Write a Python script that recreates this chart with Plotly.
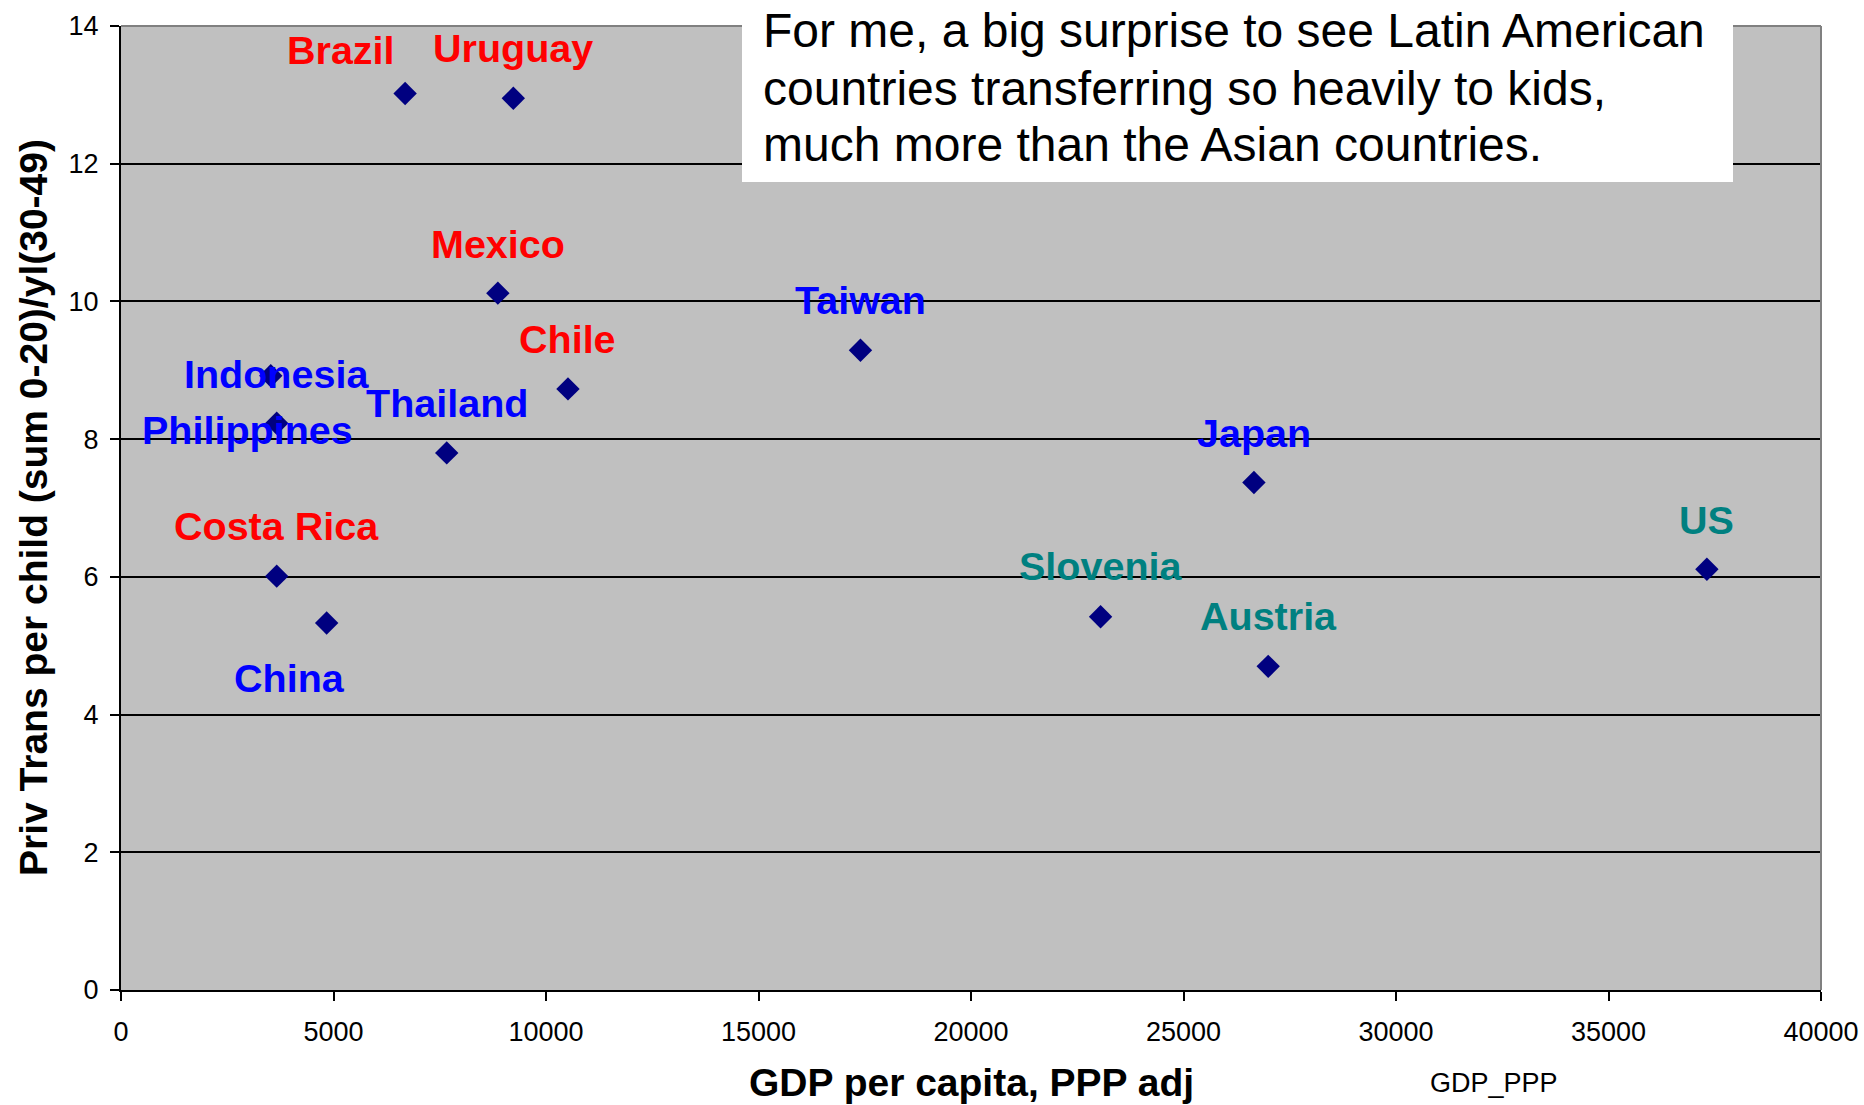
import plotly.graph_objects as go

countries = ["Brazil", "Uruguay", "Mexico", "Chile", "Indonesia", "Philippines", "Thailand",
             "Taiwan", "Japan", "US", "Slovenia", "Austria", "Costa Rica", "China"]
gdp_ppp = [6685, 9231, 8867, 10517, 3524, 3664, 7664, 17399, 26657, 37315, 23049, 26993, 3664, 4839]
priv_trans = [13.02, 12.95, 10.12, 8.73, 8.92, 8.23, 7.80, 9.29, 7.37, 6.11, 5.42, 4.70, 6.01, 5.33]
groups = ["latam", "latam", "latam", "latam", "asia", "asia", "asia",
          "asia", "asia", "other", "other", "other", "latam", "asia"]
# label offsets (pixels) relative to each point
label_dx = [-64, 0, 0, 0, 6, -29, 0, 0, 0, 0, 0, 0, 0, -37]
label_dy = [-43, -50, -49, -50, -2, 7, -50, -50, -50, -49, -51, -50, -50, 55]

group_color = {"latam": "#FF0000", "asia": "#0000FF", "other": "#008080"}

W, H = 1864, 1105
# plot area in page pixels
PL, PR, PT, PB = 121, 1821, 26, 990
L, T = PL, PT
R, B = W - PR, H - PB

FONT = "Liberation Sans, Arial, sans-serif"

fig = go.Figure()
fig.add_trace(go.Scatter(
    x=gdp_ppp, y=priv_trans, mode="markers",
    marker=dict(symbol="diamond", size=18, color="#000080", line=dict(width=0)),
    showlegend=False, hoverinfo="x+y",
))

annotations = []
for c, x, y, g, dx, dy in zip(countries, gdp_ppp, priv_trans, groups, label_dx, label_dy):
    annotations.append(dict(
        x=x, y=y, xref="x", yref="y", text="<b>" + c + "</b>", showarrow=True,
        arrowcolor="rgba(0,0,0,0)", arrowwidth=0.1, ax=dx, ay=dy,
        xanchor="center", yanchor="middle",
        font=dict(family=FONT, size=39.5, color=group_color[g]),
    ))

pw = PR - PL
ph = PB - PT
def px(xpix):
    return (xpix - PL) / pw
def py(ypix):
    return 1 - (ypix - PT) / ph

# axis titles
annotations.append(dict(
    x=0.5, y=py(1082), xref="paper", yref="paper", text="<b>GDP per capita, PPP adj</b>",
    showarrow=False, xanchor="center", yanchor="middle",
    font=dict(family=FONT, size=39, color="#000000"),
))
annotations.append(dict(
    x=px(33), y=0.5, xref="paper", yref="paper", text="<b>Priv Trans per child (sum 0-20)/yl(30-49)</b>",
    showarrow=False, xanchor="center", yanchor="middle", textangle=-90,
    font=dict(family=FONT, size=39, color="#000000"),
))
annotations.append(dict(
    x=px(1494), y=py(1083), xref="paper", yref="paper", text="GDP_PPP",
    showarrow=False, xanchor="center", yanchor="middle",
    font=dict(family=FONT, size=27, color="#000000"),
))

note_lines = ["For me, a big surprise to see Latin American",
              "countries transferring so heavily to kids,",
              "much more than the Asian countries."]
note_y = [31, 88, 144]
for line, yy in zip(note_lines, note_y):
    annotations.append(dict(
        x=px(761), y=py(yy), xref="paper", yref="paper", text=line,
        showarrow=False, xanchor="left", yanchor="middle",
        font=dict(family=FONT, size=48, color="#000000"),
    ))

shapes = [
    dict(type="line", xref="paper", yref="paper", x0=0, x1=1, y0=1, y1=1,
         line=dict(color="#808080", width=2), layer="above"),
    dict(type="line", xref="paper", yref="paper", x0=1, x1=1, y0=0, y1=1,
         line=dict(color="#808080", width=2), layer="above"),
    dict(type="rect", xref="paper", yref="paper", x0=px(742), x1=px(1733), y0=py(182), y1=py(0),
         fillcolor="#FFFFFF", line=dict(width=0), layer="above"),
]

fig.update_layout(
    width=W, height=H,
    margin=dict(l=L, r=R, t=T, b=B, pad=0, autoexpand=False),
    paper_bgcolor="#FFFFFF", plot_bgcolor="#C0C0C0",
    font=dict(family=FONT, color="#000000"),
    xaxis=dict(range=[0, 40000], dtick=5000, tick0=0, tickformat="d", showgrid=False, zeroline=False,
               showline=True, linecolor="#000000", linewidth=2, automargin=False,
               ticks="outside", ticklen=9, tickwidth=2, tickcolor="#000000",
               tickfont=dict(size=27, color="#000000"), ticklabelstandoff=8),
    yaxis=dict(range=[0, 14], dtick=2, tick0=0, showgrid=True, gridcolor="#000000", gridwidth=1.5,
               zeroline=False, showline=True, linecolor="#000000", linewidth=2, automargin=False,
               ticks="outside", ticklen=9, tickwidth=2, tickcolor="#000000",
               tickfont=dict(size=27, color="#000000"), ticklabelstandoff=6),
    annotations=annotations,
    shapes=shapes,
    showlegend=False,
)

fig.write_html("out.html", config={"displayModeBar": False},
               post_script="document.body.style.margin='0';document.body.style.overflow='hidden';")
